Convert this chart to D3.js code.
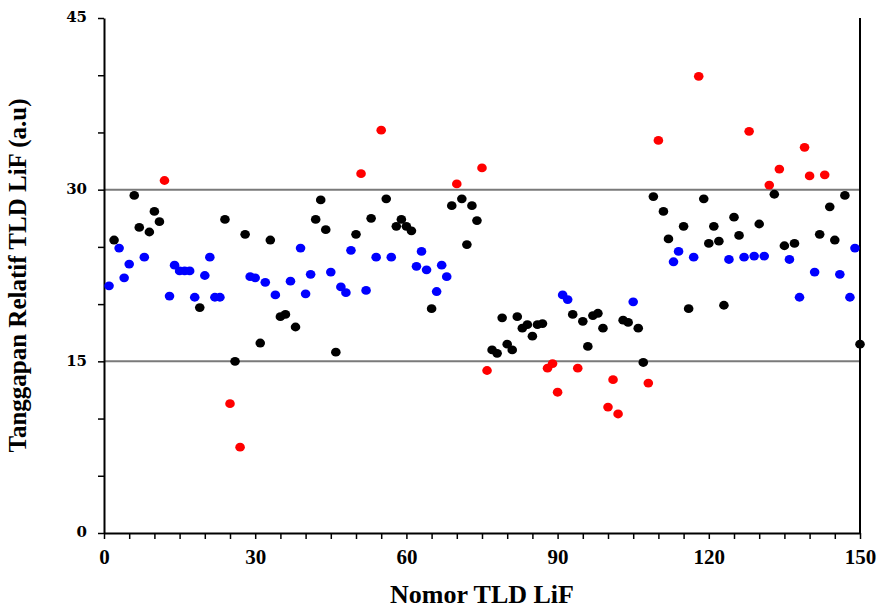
<!DOCTYPE html>
<html>
<head>
<meta charset="utf-8">
<script src="https://cdn.jsdelivr.net/npm/d3@7"></script>
<style>
  body { margin: 0; background: #fff; }
  svg { display: block; }
</style>
</head>
<body>
<svg id="chart" width="879" height="608"></svg>
<script>
// TLD number 1..150 (categories)
var nomor = d3.range(1, 151);

// relative response per TLD
var tanggapan = [
  21.6, 25.6, 24.9, 22.3, 23.5, 29.5, 26.7, 24.1, 26.3, 28.1,
  27.2, 30.8, 20.7, 23.4, 22.9, 22.9, 22.9, 20.6, 19.7, 22.5,
  24.1, 20.6, 20.6, 27.4, 11.3, 15.0, 7.5, 26.1, 22.4, 22.3,
  16.6, 21.9, 25.6, 20.8, 18.9, 19.1, 22.0, 18.0, 24.9, 20.9,
  22.6, 27.4, 29.1, 26.5, 22.8, 15.8, 21.5, 21.0, 24.7, 26.1,
  31.4, 21.2, 27.5, 24.1, 35.2, 29.2, 24.1, 26.8, 27.4, 26.8,
  26.4, 23.3, 24.6, 23.0, 19.6, 21.1, 23.4, 22.4, 28.6, 30.5,
  29.2, 25.2, 28.6, 27.3, 31.9, 14.2, 16.0, 15.7, 18.8, 16.5,
  16.0, 18.9, 17.9, 18.2, 17.2, 18.2, 18.3, 14.4, 14.8, 12.3,
  20.8, 20.4, 19.1, 14.4, 18.5, 16.3, 19.0, 19.2, 17.9, 11.0,
  13.4, 10.4, 18.6, 18.4, 20.2, 17.9, 14.9, 13.1, 29.4, 34.3,
  28.1, 25.7, 23.7, 24.6, 26.8, 19.6, 24.1, 39.9, 29.2, 25.3,
  26.8, 25.5, 19.9, 23.9, 27.6, 26.0, 24.1, 35.1, 24.2, 27.0,
  24.2, 30.4, 29.6, 31.8, 25.1, 23.9, 25.3, 20.6, 33.7, 31.2,
  22.8, 26.1, 31.3, 28.5, 25.6, 22.6, 29.5, 20.6, 24.9, 16.5
];

// marker group per TLD: k = black, b = blue, r = red
var kelompok = [
  "b","k","b","b","b","k","k","b","k","k",
  "k","r","b","b","b","b","b","b","k","b",
  "b","b","b","k","r","k","r","k","b","b",
  "k","b","k","b","k","k","b","k","b","b",
  "b","k","k","k","b","k","b","b","b","k",
  "r","b","k","b","r","k","b","k","k","k",
  "k","b","b","b","k","b","b","b","k","r",
  "k","k","k","k","r","r","k","k","k","k",
  "k","k","k","k","k","k","k","r","r","r",
  "b","b","k","r","k","k","k","k","k","r",
  "r","r","k","k","b","k","k","r","k","r",
  "k","k","b","b","k","k","b","r","k","k",
  "k","k","k","b","k","k","b","r","b","k",
  "b","r","k","r","k","b","k","b","r","r",
  "b","k","r","k","k","b","k","b","b","k"
];

var xTicks = [0, 30, 60, 90, 120, 150];
var yTicks = [0, 15, 30, 45];
var gridLines = [15, 30];

var warna = { k: "#000000", b: "#0000ff", r: "#ff0000" };

var svg = d3.select("#chart");
var margin = {top: 18, right: 19, bottom: 75, left: 104};
var width = 879 - margin.left - margin.right;
var height = 608 - margin.top - margin.bottom;

var x = d3.scaleLinear().domain([0, 150]).range([margin.left, margin.left + width]);
var y = d3.scaleLinear().domain([0, 45]).range([margin.top + height, margin.top]);

// gray gridlines
svg.append("g")
  .selectAll("line")
  .data(gridLines)
  .join("line")
    .attr("x1", x(0))
    .attr("x2", x(150))
    .attr("y1", d => y(d))
    .attr("y2", d => y(d))
    .attr("stroke", "#7a7a7a")
    .attr("stroke-width", 2);

// right border
svg.append("line")
  .attr("x1", x(150)).attr("x2", x(150))
  .attr("y1", y(0)).attr("y2", y(45))
  .attr("stroke", "#000")
  .attr("stroke-width", 2);

// x axis: minor ticks every 5, labels every 30
var xAxis = d3.axisBottom(x)
  .tickValues(d3.range(0, 151, 5))
  .tickSize(6)
  .tickSizeOuter(0)
  .tickFormat(d => xTicks.indexOf(d) >= 0 ? d : "");

var gx = svg.append("g")
  .attr("transform", "translate(0," + y(0) + ")")
  .call(xAxis);
gx.select(".domain").attr("stroke-width", 2);
gx.selectAll(".tick line").attr("stroke-width", 1.5);
gx.selectAll(".tick text")
  .attr("y", 16)
  .style("font-family", "'Liberation Serif', 'Times New Roman', serif")
  .style("font-weight", "bold")
  .style("font-size", "21px")
  .attr("fill", "#000");

// y axis: minor ticks every 5, labels every 15
var yAxis = d3.axisLeft(y)
  .tickValues(d3.range(0, 46, 5))
  .tickSize(6)
  .tickSizeOuter(0)
  .tickFormat(d => yTicks.indexOf(d) >= 0 ? d : "");

var gy = svg.append("g")
  .attr("transform", "translate(" + x(0) + ",0)")
  .call(yAxis);
gy.select(".domain").attr("stroke-width", 2);
gy.selectAll(".tick line").attr("stroke-width", 1.5);
gy.selectAll(".tick text")
  .attr("x", -17)
  .attr("dy", "0.25em")
  .style("font-family", "'DejaVu Serif', serif")
  .style("font-weight", "bold")
  .style("font-size", "15px")
  .attr("fill", "#000");

// points
svg.append("g")
  .selectAll("ellipse")
  .data(nomor)
  .join("ellipse")
    .attr("cx", (d, i) => x(d))
    .attr("cy", (d, i) => y(tanggapan[i]))
    .attr("rx", 4.8)
    .attr("ry", 4.4)
    .attr("fill", (d, i) => warna[kelompok[i]]);

// axis titles
svg.append("text")
  .attr("x", (x(0) + x(150)) / 2)
  .attr("y", 603)
  .attr("text-anchor", "middle")
  .style("font-family", "'Liberation Serif', 'Times New Roman', serif")
  .style("font-weight", "bold")
  .style("font-size", "26px")
  .text("Nomor TLD LiF");

svg.append("text")
  .attr("transform", "translate(26," + ((y(0) + y(45)) / 2) + ") rotate(-90)")
  .attr("text-anchor", "middle")
  .style("font-family", "'Liberation Serif', 'Times New Roman', serif")
  .style("font-weight", "bold")
  .style("font-size", "25px")
  .text("Tanggapan Relatif TLD LiF (a.u)");
</script>
</body>
</html>
